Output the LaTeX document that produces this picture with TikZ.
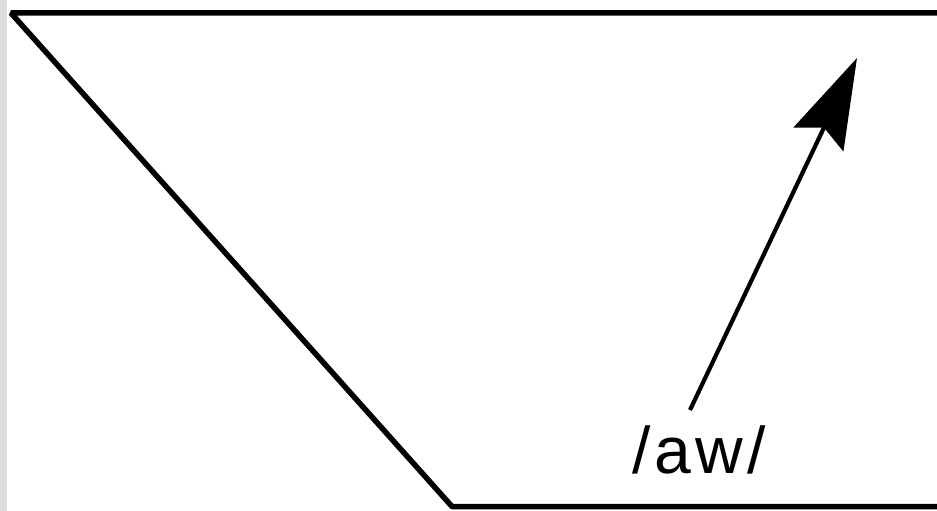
\documentclass[tikz,border=0pt]{standalone}
\usepackage{fontspec}
\setmainfont{Liberation Sans}
\usetikzlibrary{arrows.meta}
\definecolor{edgegray}{RGB}{221,221,221}
\tikzset{
  outline/.style={line width=5.5pt, black, line cap=butt, line join=bevel},
  motion/.style={line width=4.2pt, black, -{Stealth[length=90pt, width=55pt, inset=13pt]}},
  vowel/.style={font=\fontsize{66}{80}\selectfont\addfontfeature{LetterSpace=6}, inner sep=0pt}
}
\begin{document}
\begin{tikzpicture}[x=1pt, y=-1pt]
\useasboundingbox (0,0) rectangle (937,511);
\fill[white] (0,0) rectangle (937,511);
\fill[edgegray] (0,0) rectangle (7,511);
\coordinate (tr) at (937,13);
\coordinate (tl) at (11,13);
\coordinate (bl) at (452,506.5);
\coordinate (br) at (937,506.5);
\draw[outline] (tr) -- (tl) -- (bl) -- (br);
\node[vowel] (lab) at (699,450) {/aw/};
\coordinate (tail) at (690,410);
\coordinate (tip) at (857,58);
\draw[motion] (tail) -- (tip);
\end{tikzpicture}
\end{document}
